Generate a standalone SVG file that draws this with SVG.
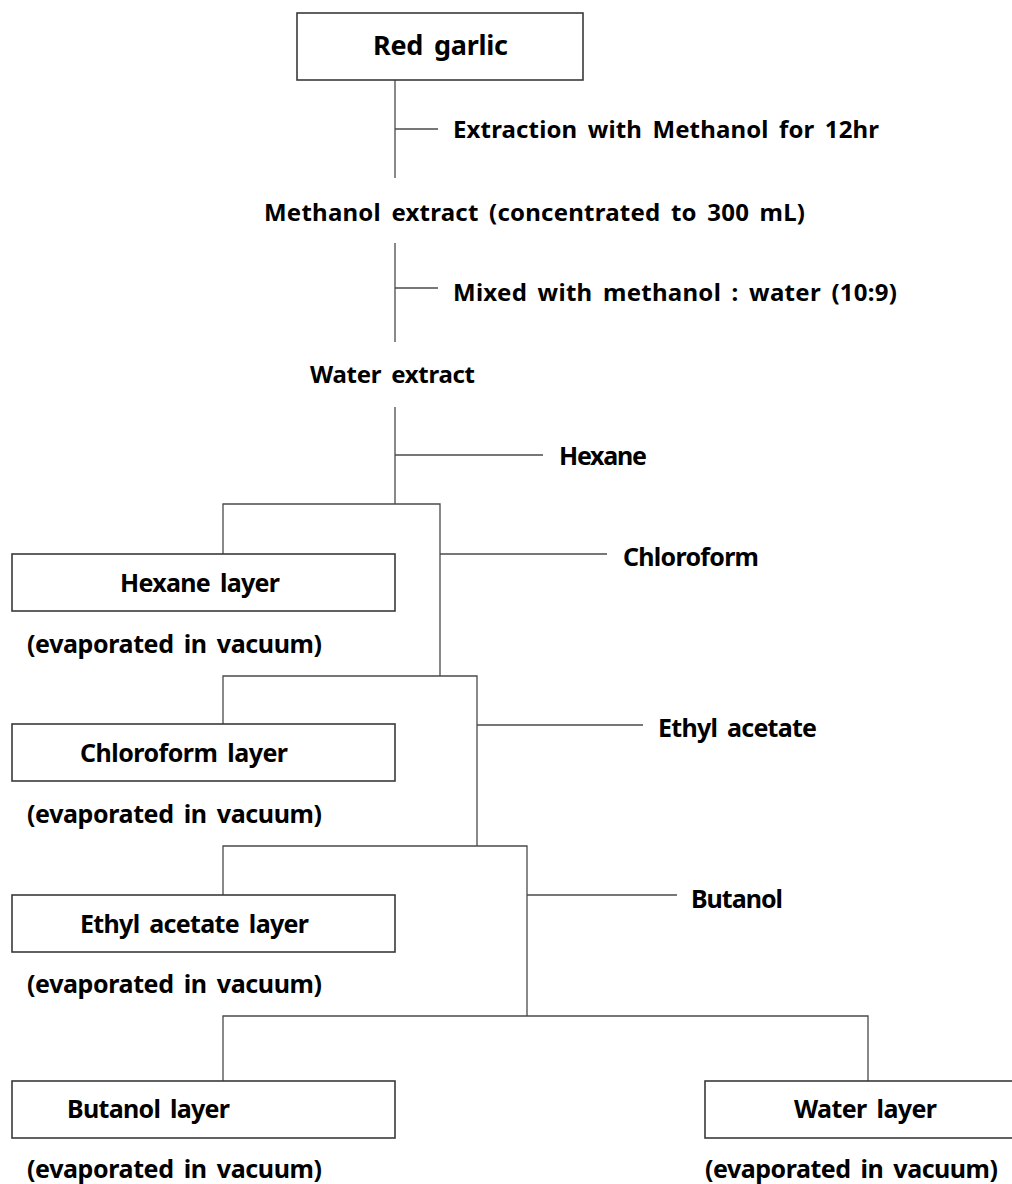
<svg xmlns="http://www.w3.org/2000/svg" width="1012" height="1184" viewBox="0 0 1012 1184">
<style>
  .box { fill: #ffffff; stroke: #3a3a3a; stroke-width: 1.6; }
  .ln { stroke: #4a4a4a; stroke-width: 1.3; fill: none; }
  text { font-family: "Noto Sans", "Open Sans", "DejaVu Sans", sans-serif; font-weight: bold; fill: #000000; word-spacing: 4px; }
  .t24 { font-size: 24px; }
  .t25 { font-size: 25px; }
  .t27 { font-size: 27px; }
</style>
<rect x="0" y="0" width="1012" height="1184" fill="#ffffff"/>
<g id="connectors">
  <line class="ln" x1="395" y1="80" x2="395" y2="178"/>
  <line class="ln" x1="395" y1="129" x2="438" y2="129"/>
  <line class="ln" x1="395" y1="243" x2="395" y2="342"/>
  <line class="ln" x1="395" y1="288" x2="438" y2="288"/>
  <line class="ln" x1="395" y1="407" x2="395" y2="504"/>
  <line class="ln" x1="395" y1="455" x2="543" y2="455"/>
  <polyline class="ln" points="223,554 223,504 440,504 440,676"/>
  <line class="ln" x1="440" y1="554" x2="607" y2="554"/>
  <polyline class="ln" points="223,724 223,676 477,676 477,846"/>
  <line class="ln" x1="477" y1="725" x2="643" y2="725"/>
  <polyline class="ln" points="223,895 223,846 527,846 527,1016"/>
  <line class="ln" x1="527" y1="895" x2="677" y2="895"/>
  <polyline class="ln" points="223,1081 223,1016 868,1016 868,1081"/>
</g>
<g id="red-garlic">
  <rect class="box" x="297" y="13" width="286" height="67"/>
  <text class="t27" x="373" y="55" textLength="135" lengthAdjust="spacing">Red garlic</text>
</g>
<g id="step-extraction">
  <text class="t24" x="453" y="138" textLength="426" lengthAdjust="spacing">Extraction with Methanol for 12hr</text>
</g>
<g id="methanol-extract">
  <text class="t24" x="264" y="221" textLength="541" lengthAdjust="spacing">Methanol extract (concentrated to 300 mL)</text>
</g>
<g id="step-mixed">
  <text class="t24" x="453" y="301" textLength="444" lengthAdjust="spacing">Mixed with methanol : water (10:9)</text>
</g>
<g id="water-extract">
  <text class="t24" x="310" y="383" textLength="165" lengthAdjust="spacing">Water extract</text>
</g>
<g id="solvent-hexane">
  <text class="t25" x="559" y="465" textLength="88" lengthAdjust="spacing">Hexane</text>
</g>
<g id="hexane-layer">
  <rect class="box" x="12" y="554" width="383" height="57"/>
  <text class="t25" x="120" y="592" textLength="160" lengthAdjust="spacing">Hexane layer</text>
  <text class="t25" x="27" y="653" textLength="295" lengthAdjust="spacing">(evaporated in vacuum)</text>
</g>
<g id="solvent-chloroform">
  <text class="t25" x="623" y="566" textLength="136" lengthAdjust="spacing">Chloroform</text>
</g>
<g id="chloroform-layer">
  <rect class="box" x="12" y="724" width="383" height="57"/>
  <text class="t25" x="80" y="762" textLength="208" lengthAdjust="spacing">Chloroform layer</text>
  <text class="t25" x="27" y="823" textLength="295" lengthAdjust="spacing">(evaporated in vacuum)</text>
</g>
<g id="solvent-ethyl-acetate">
  <text class="t25" x="658" y="737" textLength="159" lengthAdjust="spacing">Ethyl acetate</text>
</g>
<g id="ethyl-acetate-layer">
  <rect class="box" x="12" y="895" width="383" height="57"/>
  <text class="t25" x="80" y="933" textLength="229" lengthAdjust="spacing">Ethyl acetate layer</text>
  <text class="t25" x="27" y="993" textLength="295" lengthAdjust="spacing">(evaporated in vacuum)</text>
</g>
<g id="solvent-butanol">
  <text class="t25" x="691" y="908" textLength="92" lengthAdjust="spacing">Butanol</text>
</g>
<g id="butanol-layer">
  <rect class="box" x="12" y="1081" width="383" height="57"/>
  <text class="t25" x="67" y="1118" textLength="163" lengthAdjust="spacing">Butanol layer</text>
  <text class="t25" x="27" y="1178" textLength="295" lengthAdjust="spacing">(evaporated in vacuum)</text>
</g>
<g id="water-layer">
  <rect class="box" x="705" y="1081" width="330" height="57"/>
  <text class="t25" x="794" y="1118" textLength="143" lengthAdjust="spacing">Water layer</text>
  <text class="t25" x="705" y="1178" textLength="293" lengthAdjust="spacing">(evaporated in vacuum)</text>
</g>
</svg>
